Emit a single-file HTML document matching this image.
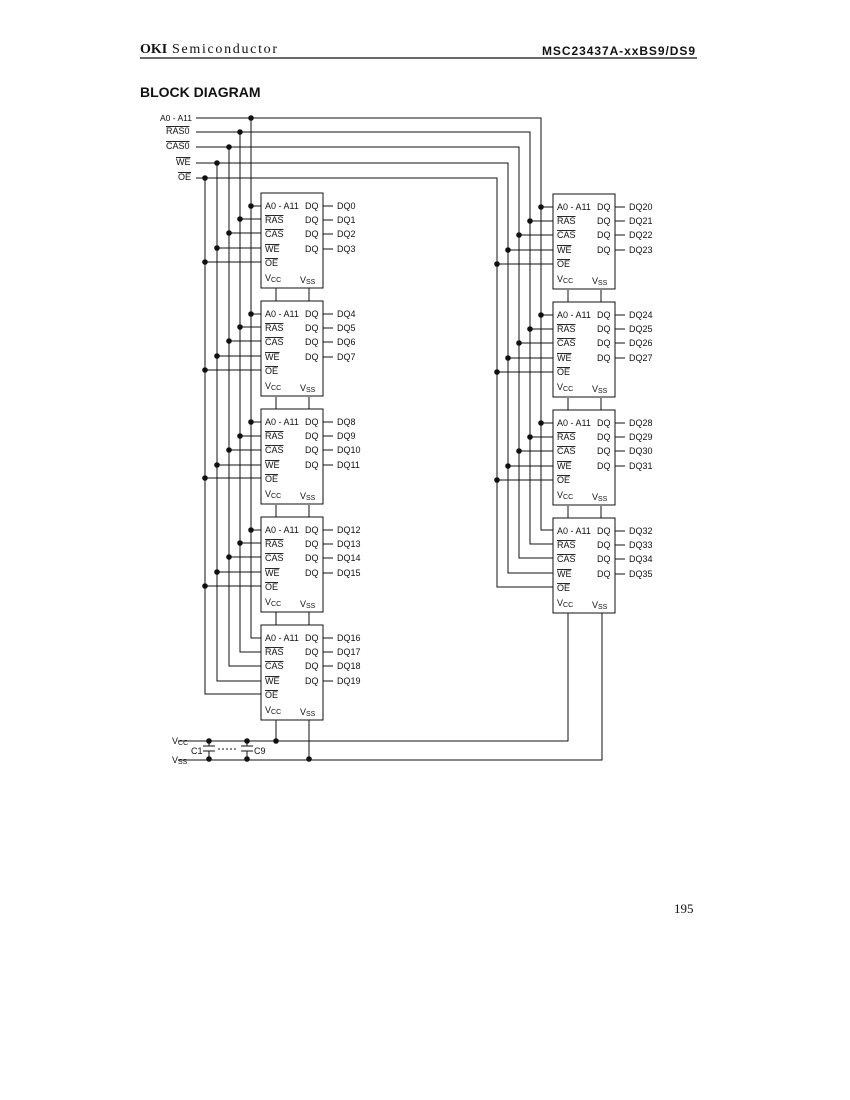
<!DOCTYPE html>
<html><head><meta charset="utf-8"><style>
html,body{margin:0;padding:0;background:#fff;}
svg{display:block;}
text{font-family:"Liberation Sans",sans-serif;fill:#111;}
.c{font-size:9px;}
.o{text-decoration:overline;}
</style></head><body>
<svg width="850" height="1100" viewBox="0 0 850 1100" xmlns="http://www.w3.org/2000/svg">
<defs>
<g id="chipL">
 <rect x="261" y="0" width="62" height="95" fill="#fff" stroke="#111" stroke-width="1"/>
 <text class="c" x="265" y="16">A0 - A11</text><text class="c" x="305" y="16">DQ</text>
 <text class="c o" x="265" y="30">RAS</text><text class="c" x="305" y="30">DQ</text>
 <text class="c o" x="265" y="44">CAS</text><text class="c" x="305" y="44">DQ</text>
 <text class="c o" x="265" y="59">WE</text><text class="c" x="305" y="59">DQ</text>
 <text class="c o" x="265" y="73">OE</text>
 <text class="c" x="265" y="88">V<tspan font-size="7" dy="1">CC</tspan></text>
 <text class="c" x="300" y="90">V<tspan font-size="7" dy="1">SS</tspan></text>
 <g stroke="#111" stroke-width="1"><line x1="323" y1="13" x2="333" y2="13"/><line x1="323" y1="27" x2="333" y2="27"/><line x1="323" y1="41" x2="333" y2="41"/><line x1="323" y1="56" x2="333" y2="56"/></g>
</g>
</defs>
<!-- header -->
<text x="140" y="53" font-weight="bold" font-size="14" style="font-family:'Liberation Serif',serif">OKI</text>
<text x="172" y="53" font-size="14" textLength="105" style="font-family:'Liberation Serif',serif">Semiconductor</text>
<text x="542" y="55" font-size="12" font-weight="bold" textLength="153">MSC23437A-xxBS9/DS9</text>
<line x1="140" y1="58" x2="697" y2="58" stroke="#111" stroke-width="1.2"/>
<text x="140" y="97" font-size="14" font-weight="bold">BLOCK DIAGRAM</text>
<text x="674" y="913" font-size="13" style="font-family:'Liberation Serif',serif">195</text>

<!-- input labels -->
<text x="160" y="121" font-size="8.5">A0 - A11</text>
<text class="c o" x="166" y="134">RAS0</text>
<text class="c o" x="166" y="149">CAS0</text>
<text class="c o" x="176" y="165">WE</text>
<text class="c o" x="178" y="180">OE</text>

<g stroke="#111" stroke-width="1" fill="none">
 <polyline points="196,118 541,118 541,530 553,530"/>
 <polyline points="196,132 530,132 530,544 553,544"/>
 <polyline points="196,147 519,147 519,558 553,558"/>
 <polyline points="196,163 508,163 508,573 553,573"/>
 <polyline points="196,178 497,178 497,587 553,587"/>
 <polyline points="251,118 251,638 261,638"/>
 <polyline points="240,132 240,652 261,652"/>
 <polyline points="229,147 229,666 261,666"/>
 <polyline points="217,163 217,681 261,681"/>
 <polyline points="205,178 205,694 261,694"/>
 <path d="M251 206H261M240 219H261M229 233H261M217 248H261M205 262H261
          M251 314H261M240 327H261M229 341H261M217 356H261M205 370H261
          M251 422H261M240 436H261M229 450H261M217 465H261M205 478H261
          M251 530H261M240 543H261M229 557H261M217 572H261M205 586H261"/>
 <path d="M541 207H553M530 221H553M519 235H553M508 250H553M497 264H553
          M541 315H553M530 329H553M519 343H553M508 358H553M497 372H553
          M541 423H553M530 437H553M519 451H553M508 466H553M497 480H553"/>
 <path d="M276 288V302M309 288V302M276 397V410M309 397V410M276 505V518M309 505V518M276 611V626M309 611V626M276 719V741M309 719V759"/>
 <path d="M568 290V302M601 290V302M568 398V410M601 398V410M568 506V518M601 506V518"/>
 <polyline points="568,612 568,741 178,741"/>
 <polyline points="602,612 602,760 178,760"/>
 <path d="M209 741V746M203 746H215M203 751H215M209 751V759M247 741V746M241 746H253M241 751H253M247 751V759"/>
 <path d="M218 749H238" stroke-dasharray="2,2"/>
</g>
<g fill="#111">
 <circle cx="251" cy="118" r="2.8"/><circle cx="240" cy="132" r="2.8"/><circle cx="229" cy="147" r="2.8"/><circle cx="217" cy="163" r="2.8"/><circle cx="205" cy="178" r="2.8"/>
 <circle cx="251" cy="206" r="2.8"/><circle cx="240" cy="219" r="2.8"/><circle cx="229" cy="233" r="2.8"/><circle cx="217" cy="248" r="2.8"/><circle cx="205" cy="262" r="2.8"/>
 <circle cx="251" cy="314" r="2.8"/><circle cx="240" cy="327" r="2.8"/><circle cx="229" cy="341" r="2.8"/><circle cx="217" cy="356" r="2.8"/><circle cx="205" cy="370" r="2.8"/>
 <circle cx="251" cy="422" r="2.8"/><circle cx="240" cy="436" r="2.8"/><circle cx="229" cy="450" r="2.8"/><circle cx="217" cy="465" r="2.8"/><circle cx="205" cy="478" r="2.8"/>
 <circle cx="251" cy="530" r="2.8"/><circle cx="240" cy="543" r="2.8"/><circle cx="229" cy="557" r="2.8"/><circle cx="217" cy="572" r="2.8"/><circle cx="205" cy="586" r="2.8"/>
 <circle cx="541" cy="207" r="2.8"/><circle cx="530" cy="221" r="2.8"/><circle cx="519" cy="235" r="2.8"/><circle cx="508" cy="250" r="2.8"/><circle cx="497" cy="264" r="2.8"/>
 <circle cx="541" cy="315" r="2.8"/><circle cx="530" cy="329" r="2.8"/><circle cx="519" cy="343" r="2.8"/><circle cx="508" cy="358" r="2.8"/><circle cx="497" cy="372" r="2.8"/>
 <circle cx="541" cy="423" r="2.8"/><circle cx="530" cy="437" r="2.8"/><circle cx="519" cy="451" r="2.8"/><circle cx="508" cy="466" r="2.8"/><circle cx="497" cy="480" r="2.8"/>
 <circle cx="209" cy="741" r="2.8"/><circle cx="247" cy="741" r="2.8"/><circle cx="276" cy="741" r="2.8"/>
 <circle cx="209" cy="759" r="2.8"/><circle cx="247" cy="759" r="2.8"/><circle cx="309" cy="759" r="2.8"/>
</g>
<text class="c" x="172" y="744">V<tspan font-size="7" dy="1">CC</tspan></text>
<text class="c" x="172" y="763">V<tspan font-size="7" dy="1">SS</tspan></text>
<text class="c" x="191" y="754">C1</text>
<text class="c" x="254" y="754">C9</text>

<use href="#chipL" transform="translate(0,193)"/>
<use href="#chipL" transform="translate(0,301)"/>
<use href="#chipL" transform="translate(0,409)"/>
<use href="#chipL" transform="translate(0,517)"/>
<use href="#chipL" transform="translate(0,625)"/>
<use href="#chipL" transform="translate(292,194)"/>
<use href="#chipL" transform="translate(292,302)"/>
<use href="#chipL" transform="translate(292,410)"/>
<use href="#chipL" transform="translate(292,518)"/>

<g class="c">
<text class="c" x="337" y="209">DQ0</text><text class="c" x="337" y="223">DQ1</text><text class="c" x="337" y="237">DQ2</text><text class="c" x="337" y="252">DQ3</text>
<text class="c" x="337" y="317">DQ4</text><text class="c" x="337" y="331">DQ5</text><text class="c" x="337" y="345">DQ6</text><text class="c" x="337" y="360">DQ7</text>
<text class="c" x="337" y="425">DQ8</text><text class="c" x="337" y="439">DQ9</text><text class="c" x="337" y="453">DQ10</text><text class="c" x="337" y="468">DQ11</text>
<text class="c" x="337" y="533">DQ12</text><text class="c" x="337" y="547">DQ13</text><text class="c" x="337" y="561">DQ14</text><text class="c" x="337" y="576">DQ15</text>
<text class="c" x="337" y="641">DQ16</text><text class="c" x="337" y="655">DQ17</text><text class="c" x="337" y="669">DQ18</text><text class="c" x="337" y="684">DQ19</text>
<text class="c" x="629" y="210">DQ20</text><text class="c" x="629" y="224">DQ21</text><text class="c" x="629" y="238">DQ22</text><text class="c" x="629" y="253">DQ23</text>
<text class="c" x="629" y="318">DQ24</text><text class="c" x="629" y="332">DQ25</text><text class="c" x="629" y="346">DQ26</text><text class="c" x="629" y="361">DQ27</text>
<text class="c" x="629" y="426">DQ28</text><text class="c" x="629" y="440">DQ29</text><text class="c" x="629" y="454">DQ30</text><text class="c" x="629" y="469">DQ31</text>
<text class="c" x="629" y="534">DQ32</text><text class="c" x="629" y="548">DQ33</text><text class="c" x="629" y="562">DQ34</text><text class="c" x="629" y="577">DQ35</text>
</g>
</svg>
</body></html>
